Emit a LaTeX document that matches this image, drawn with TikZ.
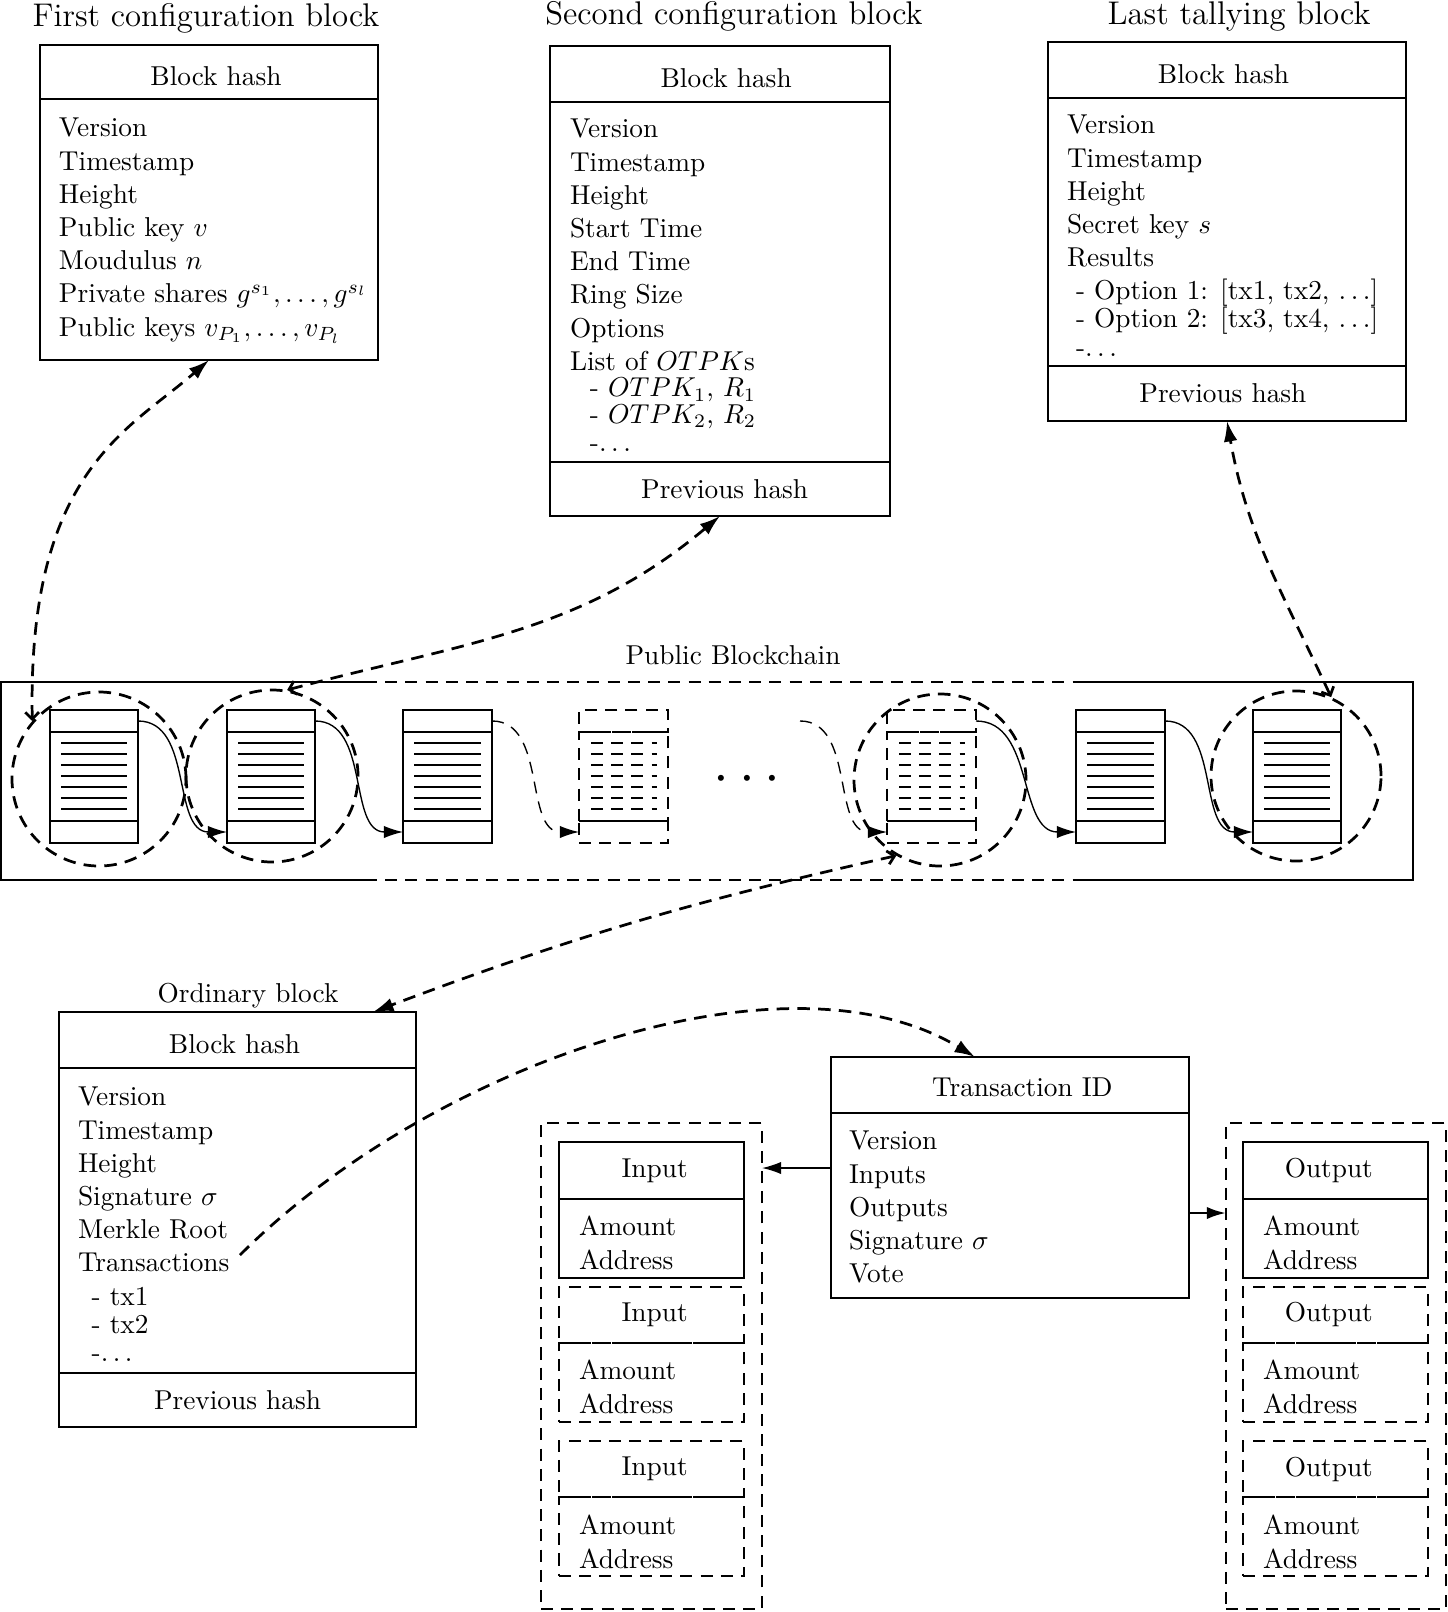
\documentclass[tikz,border=0pt]{standalone}
\usetikzlibrary{arrows.meta,calc,shapes.geometric}
\newcommand\upx{0.366pt}
% \pbox[style]{x1}{y1}{x2}{y2}{name}{text}
\newcommand\pbox[7][]{%
  \node[box,#1,minimum width={(#4-#2)*\upx},minimum height={(#5-#3)*\upx},anchor=north west] (#6) at (#2,#3) {#7};}
% \chainblk{name}{left x}{width}{style}{line inset}
\newcommand\chainblk[5]{%
  \pbox[#4]{#2}{710}{#2+#3}{732}{#1h}{}
  \pbox[#4]{#2}{732}{#2+#3}{821}{#1}{}
  \pbox[#4]{#2}{821}{#2+#3}{843}{#1f}{}
  \foreach \k in {0,...,6}{\draw[#4] ($(#1.north west)+(#5,11+11*\k)$) -- ($(#1.north east)+(-11,11+11*\k)$);}
}
\begin{document}
\begin{tikzpicture}[x=0.366pt,y=-0.366pt,
  box/.style={draw,rectangle,inner sep=0pt,outer sep=0pt,line width=0.5pt},
  btxt/.style={inner sep=0pt,outer sep=0pt,align=left,anchor=north west,font=\fontsize{10}{12.15}\selectfont},
  ttl/.style={inner sep=0pt,anchor=base,font=\large},
  lbl/.style={inner sep=0pt,anchor=base},
  hb/.style={text height=9.9pt,text depth=0pt},
  dsh/.style={dash pattern=on 4.4pt off 3pt},
  cdsh/.style={line width=1pt,dash pattern=on 4.6pt off 3pt},
  thickblk/.style={line width=1pt},
  thinblk/.style={line width=0.5pt},
  dashblk/.style={line width=0.5pt,dsh},
  tipA/.style={-{Latex[length=7pt,width=4.5pt]}},
  dcon/.style={line width=1pt,dash pattern=on 4.6pt off 3pt,arrows={Straight Barb[length=2.5pt,width=5pt]-Latex[length=7.5pt,width=5pt]}},
  dcon2/.style={line width=1pt,dash pattern=on 4.6pt off 3pt,-{Latex[length=7.5pt,width=5pt]}}
]
\useasboundingbox (0,0) rectangle (1448,1612);

% ---------- First configuration block ----------
\node[ttl] (ttl1) at (206,27) {First configuration block};
\pbox[hb]{40}{45}{378}{99}{h1}{\kern5.1pt Block hash}
\pbox{40}{99}{378}{360}{body1}{}
\node[btxt] (t1) at (59,118.3) {Version\\Timestamp\\Height\\Public key $v$\\Moudulus $n$\\Private shares $g^{s_1},\dots,g^{s_l}$\\Public keys $v_{P_1},\dots,v_{P_l}$};

% ---------- Second configuration block ----------
\node[ttl] (ttl2) at (734,25) {Second configuration block};
\pbox[hb]{550}{46}{890}{102}{h2}{\kern4.5pt Block hash}
\pbox{550}{102}{890}{462}{body2}{}
\pbox{550}{462}{890}{516}{f2}{\kern3.4pt Previous hash}
\node[btxt] (t2) at (570,119.3) {Version\\Timestamp\\Height\\Start Time\\End Time\\Ring Size\\Options\\List of $OTPK$s\\[-2.4pt]\hspace*{7.3pt}- $OTPK_1$, $R_1$\\[-2.4pt]\hspace*{7.3pt}- $OTPK_2$, $R_2$\\[-1.95pt]\hspace*{7.3pt}-$\ldots$};

% ---------- Last tallying block ----------
\node[ttl] (ttl3) at (1239,25) {Last tallying block};
\pbox[hb]{1048}{42}{1406}{98}{h3}{Block hash\kern2.6pt}
\pbox{1048}{98}{1406}{366}{body3}{}
\pbox{1048}{366}{1406}{421}{f3}{Previous hash\kern3pt}
\node[btxt] (t3) at (1067,115.3) {Version\\Timestamp\\Height\\Secret key $s$\\Results\\\hspace*{3.3pt}- Option 1: [tx1, tx2, $\ldots$]\\[-2pt]\hspace*{3.3pt}- Option 2: [tx3, tx4, $\ldots$]\\[-1.65pt]\hspace*{3.3pt}-$\ldots$};

% ---------- Public blockchain ----------
\node[lbl] (pbl) at (733,664) {Public Blockchain};
\node[inner sep=0pt,outer sep=0pt,minimum width={1412*\upx},minimum height={198*\upx},anchor=north west] (bc) at (1,682) {};
\draw[line width=0.5pt] ($(bc.north west)+(364,0)$) -- (bc.north west) -- (bc.south west) -- ($(bc.south west)+(364,0)$);
\draw[line width=0.5pt] ($(bc.north west)+(1082,0)$) -- (bc.north east) -- (bc.south east) -- ($(bc.south west)+(1082,0)$);
\draw[line width=0.5pt,dsh] ($(bc.north west)+(364,0)$) -- ($(bc.north west)+(1082,0)$);
\draw[line width=0.5pt,dsh] ($(bc.south west)+(364,0)$) -- ($(bc.south west)+(1082,0)$);

\chainblk{b1}{50}{88}{thickblk}{11}
\chainblk{b2}{227}{88}{thickblk}{11}
\chainblk{b3}{403}{89}{thinblk}{11}
\chainblk{b4}{579}{89}{dashblk}{12}
\chainblk{b5}{887}{89}{dashblk}{12}
\chainblk{b6}{1076}{89}{thinblk}{11}
\chainblk{b7}{1253}{88}{thickblk}{11}
\draw[line width=0.5pt] (b4f.north west) -- (b4f.north east);
\draw[line width=0.5pt] (b5f.north west) -- (b5f.north east);

\node[lbl] (dots) at (747,792) {\huge$\cdots$};
\coordinate (fs) at (800,721);

\draw[tipA,line width=0.5pt] (b1h.east) to[out=0,in=180] (b2f.west);
\draw[tipA,line width=0.5pt] (b2h.east) to[out=0,in=180] (b3f.west);
\draw[tipA,line width=0.5pt,dsh] (b3h.east) to[out=0,in=180] (b4f.west);
\draw[tipA,line width=0.5pt,dsh] (fs) to[out=0,in=180] (b5f.west);
\draw[tipA,line width=0.5pt] (b5h.east) to[out=0,in=180] (b6f.west);
\draw[tipA,line width=0.5pt] (b6h.east) to[out=0,in=180] (b7f.west);

\node[draw,circle,cdsh,inner sep=0pt,minimum size={174*\upx}] (c1) at (99,779) {};
\node[draw,circle,cdsh,inner sep=0pt,minimum size={172*\upx}] (c2) at (272,776) {};
\node[draw,circle,cdsh,inner sep=0pt,minimum size={172*\upx}] (c5) at (940,780) {};
\node[draw,circle,cdsh,inner sep=0pt,minimum size={170*\upx}] (c7) at (1296,776) {};

% ---------- connectors to detail blocks ----------
\draw[dcon] (c1.139) .. controls +(-5,-250) and +(-80,70) .. (body1.south);
\draw[dcon] (c2.80) to[out=15,in=220] (f2.south);
\draw[dcon] (c7.66) to[out=115,in=-80] (f3.south);

% ---------- Ordinary block ----------
\node[lbl] (ttl4) at (248,1002) {Ordinary block};
\pbox[hb]{59}{1012}{416}{1068}{h4}{Block hash\kern2.2pt}
\pbox{59}{1068}{416}{1373}{body4}{}
\pbox{59}{1373}{416}{1427}{f4}{Previous hash}
\node[btxt] (t4) at (78,1087.3) {Version\\Timestamp\\Height\\Signature $\sigma$\\Merkle Root\\Transactions\\\hspace*{5pt}- tx1\\[-1.95pt]\hspace*{5pt}- tx2\\[-1.65pt]\hspace*{5pt}-$\ldots$};

\draw[dcon] (c5.240) to[bend right=4] ($(h4.north east)+(-43,0)$);

% ---------- Transaction ----------
\pbox[text height=8.4pt,text depth=0pt]{831}{1057}{1189}{1113}{h5}{\kern9pt Transaction ID}
\pbox{831}{1113}{1189}{1298}{body5}{}
\node[btxt] (t5) at (849,1131.3) {Version\\Inputs\\Outputs\\Signature $\sigma$\\Vote};

\coordinate (txsrc) at (240,1255);
\draw[dcon2] (txsrc) .. controls +(190,-190) and +(-190,-115) .. ($(h5.north west)+(144,0)$);

% ---------- Inputs ----------
\pbox[line width=1pt,dsh]{541}{1123}{762}{1609}{incont}{}
\pbox{559}{1142}{744}{1199}{inh1}{\kern2.3pt Input}
\pbox{559}{1199}{744}{1278}{inb1}{}
\node[btxt] (int1) at (579,1216.3) {Amount\\Address};
\pbox[dsh]{559}{1287}{744}{1343}{inh2}{\kern2.3pt Input}
\pbox[dsh]{559}{1343}{744}{1422}{inb2}{}
\node[btxt] (int2) at (579,1360.3) {Amount\\Address};
\pbox[dsh]{559}{1441}{744}{1497}{inh3}{\kern2.3pt Input}
\pbox[dsh]{559}{1497}{744}{1576}{inb3}{}
\node[btxt] (int3) at (579,1515.3) {Amount\\Address};

% ---------- Outputs ----------
\pbox[line width=1pt,dsh]{1226}{1123}{1446}{1609}{outcont}{}
\pbox{1243}{1142}{1428}{1199}{outh1}{Output\kern4.9pt}
\pbox{1243}{1199}{1428}{1278}{outb1}{}
\node[btxt] (outt1) at (1263,1216.3) {Amount\\Address};
\pbox[dsh]{1243}{1287}{1428}{1343}{outh2}{Output\kern4.9pt}
\pbox[dsh]{1243}{1343}{1428}{1422}{outb2}{}
\node[btxt] (outt2) at (1263,1360.3) {Amount\\Address};
\pbox[dsh]{1243}{1441}{1428}{1497}{outh3}{Output\kern4.9pt}
\pbox[dsh]{1243}{1497}{1428}{1576}{outb3}{}
\node[btxt] (outt3) at (1263,1515.3) {Amount\\Address};

\coordinate (inA) at ($(body5.north west)+(0,55)$);
\draw[tipA,line width=0.5pt] (inA) -- (incont.east |- inA);
\coordinate (outA) at ($(body5.north east)+(0,100)$);
\draw[tipA,line width=1pt] (outA) -- (outcont.west |- outA);

\end{tikzpicture}
\end{document}
